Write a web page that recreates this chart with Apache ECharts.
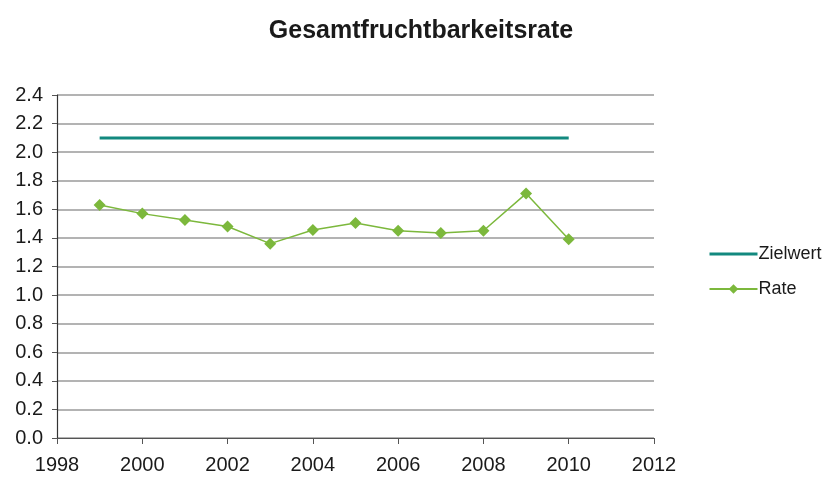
<!DOCTYPE html>
<html>
<head>
<meta charset="utf-8">
<script src="https://cdn.jsdelivr.net/npm/echarts@6/dist/echarts.min.js"></script>
<style>
  html, body { margin: 0; padding: 0; background: #fff; }
  #chart { width: 828px; height: 480px; }
</style>
</head>
<body>
<div id="chart"></div>
<script>
var years = [1999, 2000, 2001, 2002, 2003, 2004, 2005, 2006, 2007, 2008, 2009, 2010];
var rate = [1.63, 1.57, 1.525, 1.48, 1.36, 1.455, 1.505, 1.45, 1.435, 1.45, 1.71, 1.39];
var zielwert = [[1999, 2.1], [2010, 2.1]];

var chart = echarts.init(document.getElementById('chart'));
var font = 'Liberation Sans, Arial, sans-serif';

chart.setOption({
  animation: false,
  textStyle: { fontFamily: font },
  title: {
    text: 'Gesamtfruchtbarkeitsrate',
    left: 416,
    textAlign: 'center',
    top: 14,
    textStyle: { fontSize: 25, fontWeight: 'bold', color: '#1a1a1a', fontFamily: font }
  },
  legend: {
    orient: 'vertical',
    left: 703,
    top: 240,
    itemWidth: 48,
    itemHeight: 12,
    itemGap: 17,
    textStyle: { fontSize: 18, color: '#1a1a1a', padding: [0, 0, 0, -4] },
    data: [
      { name: 'Zielwert', itemStyle: { opacity: 0 }, lineStyle: { width: 3 } },
      { name: 'Rate', lineStyle: { width: 2 } }
    ]
  },
  grid: { left: 57, right: 174, top: 95, bottom: 42 },
  xAxis: {
    type: 'value',
    min: 1998,
    max: 2012,
    interval: 2,
    axisLine: { lineStyle: { color: '#555', width: 1.2 } },
    axisTick: { show: true, length: 6, lineStyle: { color: '#555' } },
    axisLabel: {
      fontSize: 20, color: '#1a1a1a', margin: 17,
      formatter: function (v) { return String(v); }
    },
    splitLine: { show: false }
  },
  yAxis: {
    type: 'value',
    min: 0,
    max: 2.4,
    interval: 0.2,
    axisLine: { show: true, lineStyle: { color: '#333', width: 1.2 } },
    axisTick: { show: true, length: 5, lineStyle: { color: '#555' } },
    axisLabel: {
      fontSize: 20, color: '#1a1a1a', margin: 14,
      formatter: function (v) { return v.toFixed(1); }
    },
    splitLine: { show: true, lineStyle: { color: '#9a9a9a', width: 1.5 } }
  },
  series: [
    {
      name: 'Zielwert',
      type: 'line',
      data: zielwert,
      symbol: 'none',
      lineStyle: { color: '#12897f', width: 3 },
      itemStyle: { color: '#12897f' }
    },
    {
      name: 'Rate',
      type: 'line',
      data: years.map(function (y, i) { return [y, rate[i]]; }),
      symbol: 'diamond',
      symbolSize: 12,
      lineStyle: { color: '#7cb83c', width: 1.5 },
      itemStyle: { color: '#7cb83c' }
    }
  ]
});
</script>
</body>
</html>
